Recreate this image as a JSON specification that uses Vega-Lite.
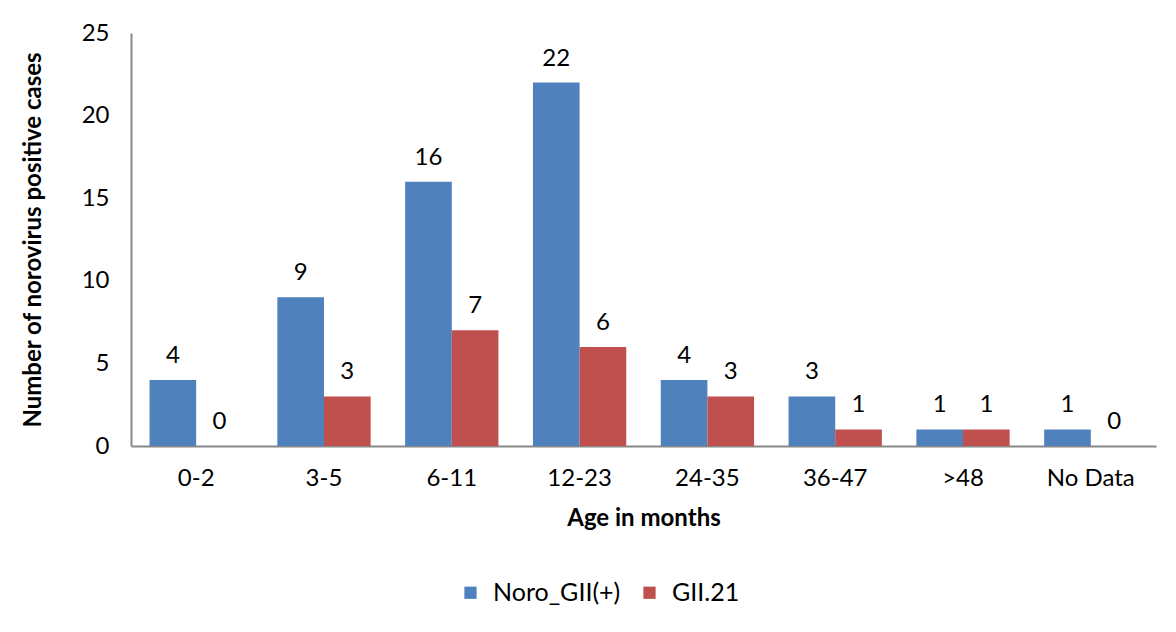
{
  "$schema": "https://vega.github.io/schema/vega-lite/v6.json",
  "width": 1025,
  "height": 413,
  "autosize": {"type": "none"},
  "padding": {"left": 131, "top": 33, "right": 20, "bottom": 186},
  "background": "white",
  "config": {
    "font": "Lato",
    "view": {"stroke": null},
    "axis": {"labelFont": "Lato", "titleFont": "Lato", "labelColor": "black", "titleColor": "black"}
  },
  "data": {
    "values": [
      {"age": "0-2", "series": "Noro_GII(+)", "cases": 4},
      {"age": "0-2", "series": "GII.21", "cases": 0},
      {"age": "3-5", "series": "Noro_GII(+)", "cases": 9},
      {"age": "3-5", "series": "GII.21", "cases": 3},
      {"age": "6-11", "series": "Noro_GII(+)", "cases": 16},
      {"age": "6-11", "series": "GII.21", "cases": 7},
      {"age": "12-23", "series": "Noro_GII(+)", "cases": 22},
      {"age": "12-23", "series": "GII.21", "cases": 6},
      {"age": "24-35", "series": "Noro_GII(+)", "cases": 4},
      {"age": "24-35", "series": "GII.21", "cases": 3},
      {"age": "36-47", "series": "Noro_GII(+)", "cases": 3},
      {"age": "36-47", "series": "GII.21", "cases": 1},
      {"age": ">48", "series": "Noro_GII(+)", "cases": 1},
      {"age": ">48", "series": "GII.21", "cases": 1},
      {"age": "No Data", "series": "Noro_GII(+)", "cases": 1},
      {"age": "No Data", "series": "GII.21", "cases": 0}
    ]
  },
  "encoding": {
    "x": {
      "field": "age", "type": "nominal", "sort": null,
      "scale": {"paddingInner": 0.27, "paddingOuter": 0.145},
      "axis": {"title": "Age in months", "labelAngle": 0, "labelFontSize": 24, "titleFontSize": 24, "titleFontWeight": "bold", "ticks": false, "labelPadding": 20, "titlePadding": 16, "domainColor": "#888888", "domainWidth": 2}
    },
    "xOffset": {"field": "series", "type": "nominal", "sort": ["Noro_GII(+)", "GII.21"], "scale": {"paddingInner": 0}},
    "y": {
      "field": "cases", "type": "quantitative",
      "scale": {"domain": [0, 25]},
      "axis": {"title": "Number of norovirus positive cases", "values": [0, 5, 10, 15, 20, 25], "grid": false, "ticks": false, "labelFontSize": 24, "titleFontSize": 24, "titleFontWeight": "bold", "labelPadding": 22, "titlePadding": 36, "domainColor": "#888888", "domainWidth": 2}
    }
  },
  "layer": [
    {
      "mark": {"type": "bar"},
      "encoding": {
        "color": {
          "field": "series", "type": "nominal",
          "scale": {"domain": ["Noro_GII(+)", "GII.21"], "range": ["#4F81BD", "#C0504D"]},
          "legend": {"title": null, "orient": "none", "direction": "horizontal", "legendX": 327, "legendY": 547, "symbolType": "square", "symbolSize": 150, "symbolStrokeWidth": 0, "labelFontSize": 25, "labelFont": "Lato", "labelColor": "black", "columnPadding": 16, "labelOffset": 10}
        }
      }
    },
    {
      "mark": {"type": "text", "baseline": "bottom", "dy": -12, "fontSize": 24, "font": "Lato", "color": "black"},
      "encoding": {"text": {"field": "cases", "type": "quantitative"}}
    }
  ]
}
